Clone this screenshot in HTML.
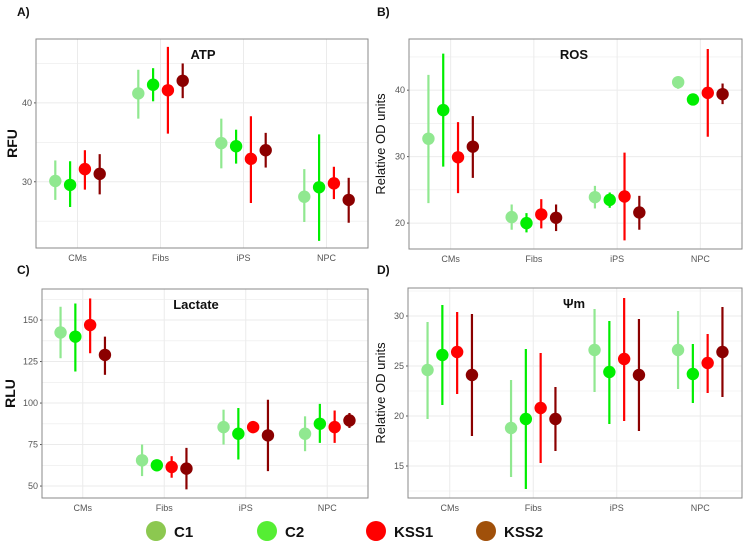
<!DOCTYPE html>
<html><head><meta charset="utf-8"><style>
body{margin:0;background:#fff;width:751px;height:548px;overflow:hidden;font-family:"Liberation Sans",sans-serif}
svg text{font-family:"Liberation Sans","DejaVu Sans",sans-serif}
</style></head><body>
<svg id="fig" width="751" height="548" viewBox="0 0 751 548" xmlns="http://www.w3.org/2000/svg"></svg>
<script>
const categories = ["CMs","Fibs","iPS","NPC"];
const groups = ["C1","C2","KSS1","KSS2"];
const groupColors = ["#90e890","#00ee00","#ff0000","#8b0000"];
const legendColors = ["#8cc850","#55ee33","#ff0000","#a0500a"];
// ATP
const atpMean = [[30.1,29.6,31.6,31.0],[41.2,42.3,41.6,42.8],[34.9,34.5,32.9,34.0],[28.1,29.3,29.8,27.7]];
const atpLow  = [[27.7,26.8,29.0,28.4],[38.0,40.2,36.1,40.6],[31.7,32.3,27.3,31.8],[24.9,22.5,27.8,24.8]];
const atpHigh = [[32.7,32.6,34.0,33.5],[44.2,44.4,47.1,45.0],[38.0,36.6,38.3,36.2],[31.6,36.0,31.9,30.5]];
const atpTicks = [30,40];
// ROS
const rosMean = [[32.7,37.0,29.9,31.5],[20.9,20.0,21.3,20.8],[23.9,23.5,24.0,21.6],[41.2,38.6,39.6,39.4]];
const rosLow  = [[23.0,28.5,24.5,26.8],[19.0,18.6,19.2,18.8],[22.2,22.3,17.4,19.0],[40.2,38.4,33.0,37.9]];
const rosHigh = [[42.3,45.5,35.2,36.1],[22.8,21.5,23.6,22.8],[25.6,24.6,30.6,24.1],[41.9,38.8,46.2,41.0]];
const rosTicks = [20,30,40];
// Lactate
const lacMean = [[142.5,140,147,129],[65.5,62.5,61.5,60.5],[85.5,81.5,85.5,80.5],[81.5,87.5,85.5,89.5]];
const lacLow  = [[127,119,130,117],[56,61,55,48],[75,66,84,59],[71,76,76,85]];
const lacHigh = [[158,160,163,140],[75,64,68,73],[96,97,87,102],[92,99.5,95.5,94]];
const lacTicks = [50,75,100,125,150];
// Psi m
const psiMean = [[24.6,26.1,26.4,24.1],[18.8,19.7,20.8,19.7],[26.6,24.4,25.7,24.1],[26.6,24.2,25.3,26.4]];
const psiLow  = [[19.7,21.1,22.2,18.0],[13.9,12.7,15.3,16.5],[22.4,19.2,19.5,18.5],[22.7,21.3,22.3,21.9]];
const psiHigh = [[29.4,31.1,30.4,30.2],[23.6,26.7,26.3,22.9],[30.7,29.5,31.8,29.7],[30.5,27.2,28.2,30.9]];
const psiTicks = [15,20,25,30];

const NS="http://www.w3.org/2000/svg";
const svg=document.getElementById("fig");
function mk(tag,attrs,parent){const e=document.createElementNS(NS,tag);for(const k in attrs)e.setAttribute(k,attrs[k]);(parent||svg).appendChild(e);return e;}

function panel(o){
  const g=mk("g",{});
  
  
  const y=v=>o.y1-(v-o.ymin)/(o.ymax-o.ymin)*(o.y1-o.y0);
  const step=(o.x1-o.x0)/4;
  const x=i=>o.x0+step*(i+0.5);
  const bg=mk("rect",{x:o.x0,y:o.y0,width:o.x1-o.x0,height:o.y1-o.y0,fill:"#fff"},g);
  
  
  const d=o.ticks[1]-o.ticks[0];
  for(let v=o.ticks[0]-d*1.5; v<=o.ymax; v+=d/2){
    if(v<o.ymin) continue;
    const gl=mk("line",{x1:o.x0,x2:o.x1,y1:y(v),y2:y(v),stroke:"#ebebeb","stroke-width":Math.abs(((v-o.ticks[0])/d)%1)<1e-6?1:0.6},g);
    
    
  }
  categories.forEach((c,i)=>{
    const gl=mk("line",{x1:x(i),x2:x(i),y1:o.y0,y2:o.y1,stroke:"#ebebeb","stroke-width":1},g);
    
    
    const t=mk("text",{x:x(i),y:o.y1+13,"font-size":9,fill:"#555","text-anchor":"middle"},g);
    t.textContent=c;
    
    
  });
  o.ticks.forEach(v=>{
    const t=mk("text",{x:o.x0-4,y:y(v)+3,"font-size":9,fill:"#555","text-anchor":"end"},g);
    t.textContent=v;
    
    
    mk("line",{x1:o.x0-2,x2:o.x0,y1:y(v),y2:y(v),stroke:"#555"},g);
  });
  const offs=[-1.5,-0.5,0.5,1.5];
  categories.forEach((c,i)=>{
    groups.forEach((gr,j)=>{
      const cx=x(i)+offs[j]*14.8;
      const l=mk("line",{x1:cx,x2:cx,y1:y(o.low[i][j]),y2:y(o.high[i][j]),stroke:groupColors[j],"stroke-width":2.2},g);
      
      
      const p=mk("circle",{cx:cx,cy:y(o.mean[i][j]),r:6.2,fill:groupColors[j]},g);
      
      
    });
  });
  const br=mk("rect",{x:o.x0,y:o.y0,width:o.x1-o.x0,height:o.y1-o.y0,fill:"none",stroke:"#8a8a8a","stroke-width":1},g);
  
  
  const tt=mk("text",{x:o.tx,y:o.y0+20,"font-size":13,"font-weight":"bold",fill:"#111","text-anchor":"middle"},g);
  tt.textContent=o.title;
  
  
  const cy=(o.y0+o.y1)/2;
  const yl=mk("text",{x:o.ylx,y:cy,"font-size":o.ylfs,"font-weight":o.ylw,fill:"#111","text-anchor":"middle",transform:`rotate(-90 ${o.ylx} ${cy})`},g);
  yl.textContent=o.ylabel;
  
  
  const pl=mk("text",{x:o.plx,y:o.ply,"font-size":12,"font-weight":"bold",fill:"#111"},g);
  pl.textContent=o.letter;
  
  
}
panel({name:"atp",x0:36,x1:368,y0:39,y1:248,ymin:21.6,ymax:48.1,ticks:atpTicks,mean:atpMean,low:atpLow,high:atpHigh,title:"ATP",tx:203,ylabel:"RFU",ylx:17,ylfs:14,ylw:"bold",letter:"A)",plx:17,ply:16});
panel({name:"ros",x0:409,x1:742,y0:39,y1:249,ymin:16.1,ymax:47.7,ticks:rosTicks,mean:rosMean,low:rosLow,high:rosHigh,title:"ROS",tx:574,ylabel:"Relative OD units",ylx:385,ylfs:13,ylw:"normal",letter:"B)",plx:377,ply:16});
panel({name:"lactate",x0:42,x1:368,y0:289,y1:498,ymin:42.8,ymax:168.7,ticks:lacTicks,mean:lacMean,low:lacLow,high:lacHigh,title:"Lactate",tx:196,ylabel:"RLU",ylx:15,ylfs:14,ylw:"bold",letter:"C)",plx:17,ply:274});
panel({name:"psi-m",x0:408,x1:742,y0:288,y1:498,ymin:11.8,ymax:32.8,ticks:psiTicks,mean:psiMean,low:psiLow,high:psiHigh,title:"Ψm",tx:574,ylabel:"Relative OD units",ylx:385,ylfs:13,ylw:"normal",letter:"D)",plx:377,ply:274});

const legX=[156,267,376,486];
groups.forEach((gr,j)=>{
  const c=mk("circle",{cx:legX[j],cy:531,r:10,fill:legendColors[j]});
  
  
  const t=mk("text",{x:legX[j]+18,y:537,"font-size":15,"font-weight":"bold",fill:"#111"});
  t.textContent=gr;
  
  
});
</script>
</body></html>
